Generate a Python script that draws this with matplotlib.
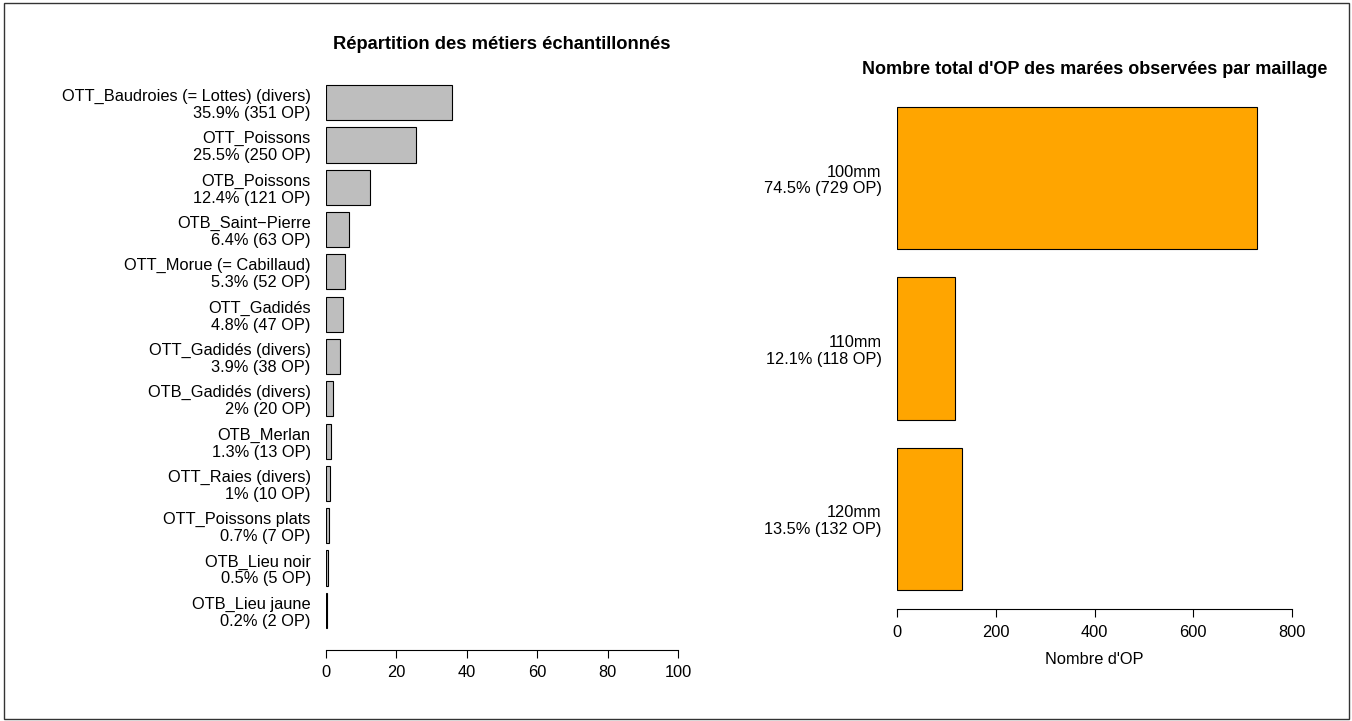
import matplotlib
matplotlib.use("Agg")
import matplotlib.pyplot as plt
from matplotlib.patches import Rectangle

plt.rcParams['font.family'] = ['Liberation Sans', 'DejaVu Sans']

# left panel: sampled metiers (number of OP)
metiers = ["OTT_Baudroies (= Lottes) (divers)", "OTT_Poissons", "OTB_Poissons",
           "OTB_Saint\u2212Pierre", "OTT_Morue (= Cabillaud)", "OTT_Gadidés",
           "OTT_Gadidés (divers)", "OTB_Gadidés (divers)", "OTB_Merlan",
           "OTT_Raies (divers)", "OTT_Poissons plats", "OTB_Lieu noir", "OTB_Lieu jaune"]
metier_op = [351, 250, 121, 63, 52, 47, 38, 20, 13, 10, 7, 5, 2]

# right panel: mesh sizes
maillages = ["100mm", "110mm", "120mm"]
maillage_op = [729, 118, 132]

total = sum(metier_op)
metier_pct = [n / total * 100 for n in metier_op]
metier_labels = ["%s\n%g%% (%d OP)" % (m, round(p, 1), n)
                 for m, p, n in zip(metiers, metier_pct, metier_op)]
total2 = sum(maillage_op)
maillage_labels = ["%s\n%g%% (%d OP)" % (m, round(n / total2 * 100, 1), n)
                   for m, n in zip(maillages, maillage_op)]

W, H = 1352, 721
FS = 11.8
fig = plt.figure(figsize=(W / 100, H / 100), dpi=100)

def px_axes(x0, x1, ytop, ybot):
    return fig.add_axes([x0 / W, 1 - ybot / H, (x1 - x0) / W, (ybot - ytop) / H])

def style(ax, xmax, nbars):
    # R barplot geometry: width 1, space 0.2
    pos = [0.7 + 1.2 * i for i in range(nbars)]
    lo, hi = 0.2, 1.2 * nbars
    ext = (hi - lo) * 0.04
    ax.set_ylim(hi + ext, lo - ext)
    ax.set_xlim(0, xmax)
    for s in ["top", "right", "left"]:
        ax.spines[s].set_visible(False)
    ax.spines["bottom"].set_bounds(0, xmax)
    ax.spines["bottom"].set_linewidth(0.8)
    ax.tick_params(axis="x", length=6, width=0.8, pad=5, labelsize=FS)
    ax.tick_params(axis="y", length=0, pad=11, labelsize=FS)
    return pos

ax1 = px_axes(326, 678, 63.2, 649.8)
pos1 = style(ax1, 100, len(metier_op))
ax1.barh(pos1, metier_pct, height=1, color="#BEBEBE", edgecolor="black", linewidth=0.8)
ax1.set_yticks(pos1)
ax1.set_yticklabels(metier_labels, ha="right", linespacing=1.15)
ax1.set_xticks([0, 20, 40, 60, 80, 100])
ax1.set_title("Répartition des métiers échantillonnés", fontsize=13.2,
              fontweight="bold", pad=10)

ax2 = px_axes(897, 1292, 87.7, 609.3)
pos2 = style(ax2, 800, len(maillage_op))
ax2.barh(pos2, maillage_op, height=1, color="#FFA500", edgecolor="black", linewidth=0.8)
ax2.set_yticks(pos2)
ax2.set_yticklabels(maillage_labels, ha="right", linespacing=1.15)
ax2.set_xticks([0, 200, 400, 600, 800])
ax2.set_xlabel("Nombre d'OP", fontsize=FS, labelpad=9)
ax2.set_title("Nombre total d'OP des marées observées par maillage", fontsize=13,
              fontweight="bold", pad=10)

# frame around the whole figure
fig.add_artist(Rectangle((4 / W, 2 / H), 1345 / W, 716 / H, transform=fig.transFigure,
                         fill=False, edgecolor="#333333", linewidth=1))

fig.savefig("out.png", dpi=100)
